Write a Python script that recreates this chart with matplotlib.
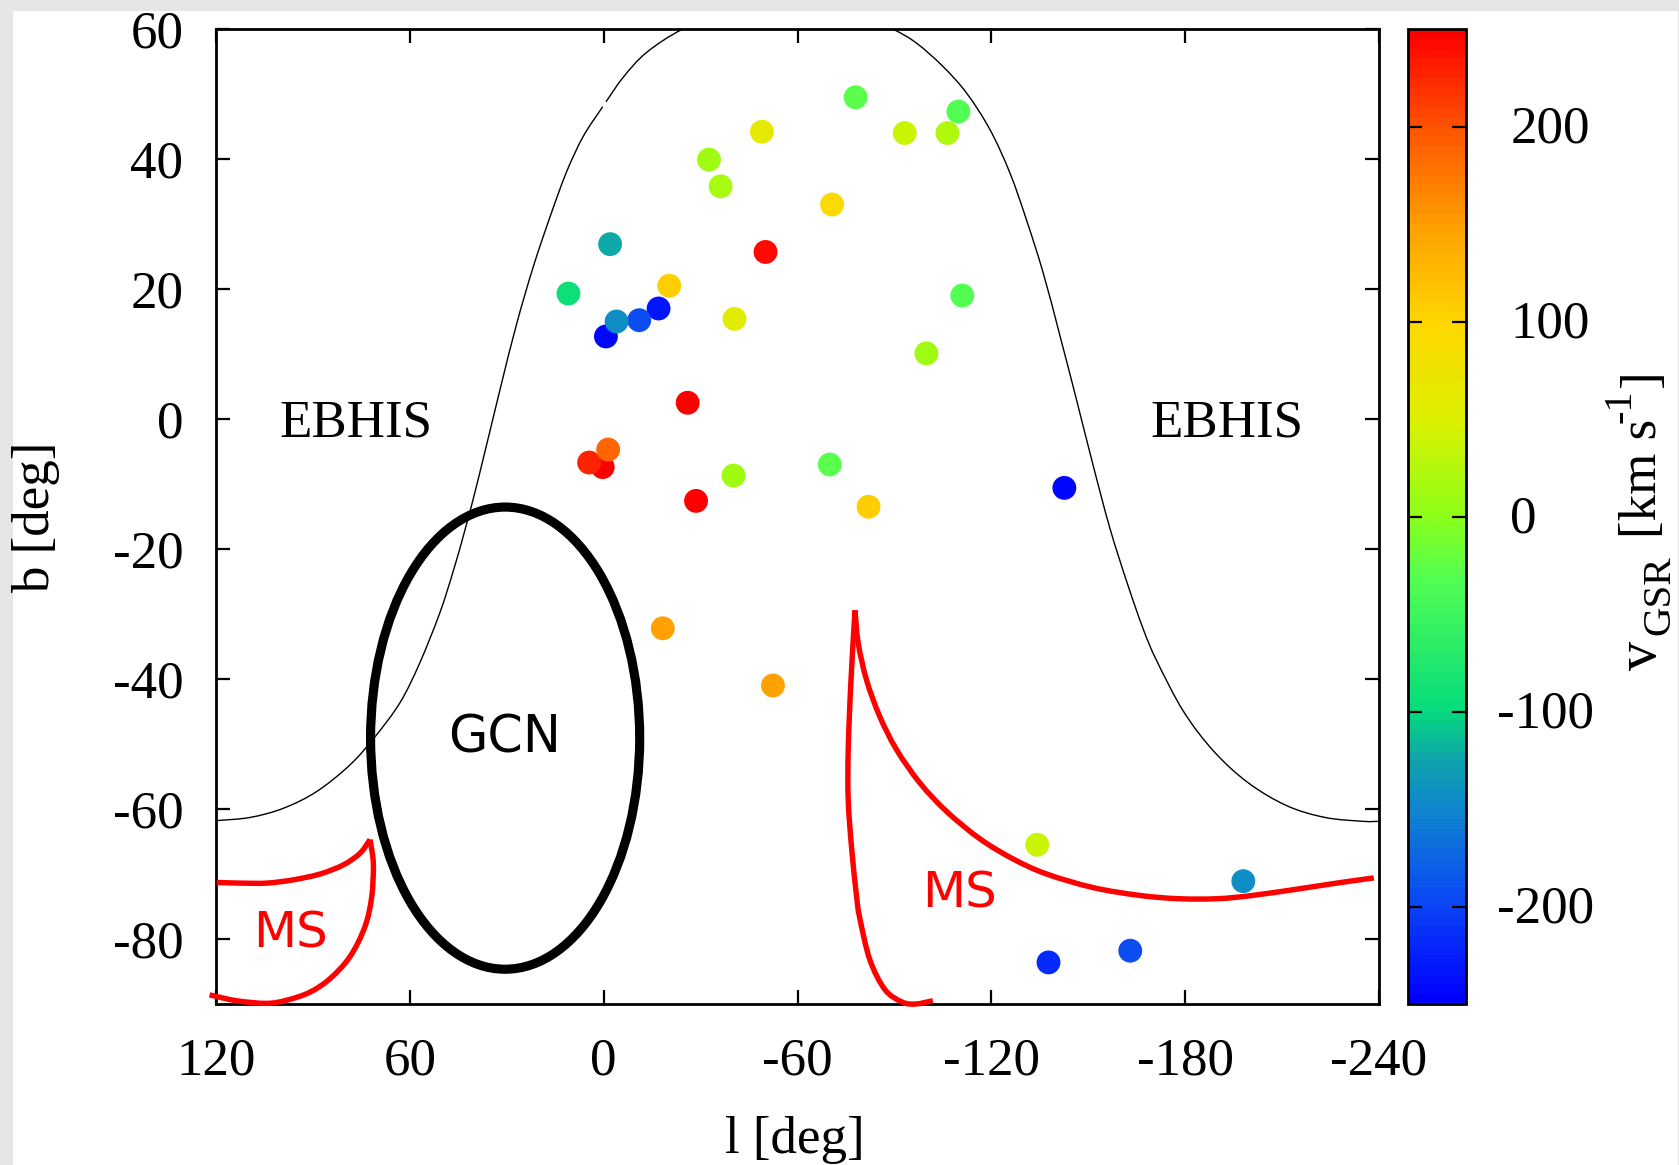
import matplotlib
matplotlib.use("Agg")
import matplotlib.pyplot as plt
import numpy as np
from matplotlib.colors import LinearSegmentedColormap, Normalize
from matplotlib.cm import ScalarMappable
from matplotlib.patches import Ellipse, Rectangle, PathPatch
from matplotlib.path import Path
from matplotlib.transforms import ScaledTranslation

# --- clouds ---
cloud_l = [-78, -109.8, -93.2, -106.4, -49, -32.6, -36.2, -70.7, -2, -50.1, 10.9, -20.3, -111, -40.5,
           -17, -11, -0.7, -4, -99.9, -26, 0.3, 4.5, -1.4, -40.2, -70, -82, -28.6, -142.6,
           -18.3, -52.4, -134.2, -198, -163, -137.7]
cloud_b = [49.5, 47.3, 44, 44, 44.2, 39.9, 35.8, 33, 26.9, 25.7, 19.3, 20.5, 19, 15.4,
           17, 15.2, 12.7, 15, 10.1, 2.5, -7.4, -6.7, -4.7, -8.7, -7, -13.5, -12.6, -10.6,
           -32.2, -41, -65.5, -71.1, -81.8, -83.6]
cloud_v = [-30, -33, 40, 20, 60, 10, 15, 90, -125, 240, -95, 105, -35, 55,
           -235, -195, -245, -145, 10, 245, 245, 225, 185, 10, -30, 105, 250, -245,
           145, 145, 40, -145, -195, -220]

# --- EBHIS boundary ---
ebhis_l1 = [120, 109.5, 99.2, 88.8, 78.5, 70.8, 63, 56.9, 50.7, 46.5, 42.9, 38.8, 32.1, 26.9, 21.8, 16.6, 11.5, 6.3, 0.3]
ebhis_b1 = [-61.8, -61.3, -59.9, -57.3, -53.2, -48.9, -43.6, -37.5, -29.8, -23.3, -17, -9.2, 4.5, 14.7, 23.4, 31.1, 38.0, 43.5, 48.05]
ebhis_l2 = [-0.7, -6.1, -13.3, -24.5, -40, -57, -75, -89.5, -96.9, -105.1, -112.4, -119.6, -125.8, -130.9, -136.1,
            -141.3, -146.4, -151.6, -156.7, -161.9, -167, -171.2, -179.5, -189, -199.6, -211.5, -223.3, -235.2, -240]
ebhis_b2 = [48.8, 52.6, 56.4, 60, 63.2, 64.8, 63.4, 60, 57.8, 54.2, 50.1, 44.5, 37.8, 30.6, 22.4,
            12.7, 2.9, -7.3, -16.8, -25, -32.3, -37.2, -45, -51.2, -56, -59.5, -61.3, -61.9, -61.9]

# --- Magellanic Stream outline: each outline is two legs that meet in a cusp ---
ms_right_leg1_l = [-101.9, -96.6, -92.4, -87.1, -82.4, -79.2, -78.3, -76.8, -75.7, -75.7, -76.5, -77.8]
ms_right_leg1_b = [-89.5, -90, -89.7, -87.8, -83.2, -76.6, -73.5, -66.3, -58.6, -50.9, -40.7, -29.4]
ms_right_leg2_l = [-77.8, -78.8, -81.4, -85.5, -90.7, -97.9, -106.2, -116.5, -126.8, -137.1, -151.6, -166, -178, -190, -200.8, -215, -226.9, -238.4]
ms_right_leg2_b = [-29.4, -34.5, -40.2, -45.8, -50.9, -56, -60.4, -64.6, -67.7, -70, -72.1, -73.3, -73.8, -73.8, -73.3, -72.3, -71.4, -70.6]
ms_left_leg1_l = [119.8, 112.6, 104.3, 96.1, 87.8, 80.6, 75.4, 72.3]
ms_left_leg1_b = [-71.3, -71.4, -71.4, -70.9, -70, -68.6, -66.8, -64.7]
ms_left_leg2_l = [72.3, 71.3, 71.8, 73.9, 78.5, 84.7, 91, 98, 104.3, 113.6, 122]
ms_left_leg2_b = [-64.7, -68.4, -73.5, -78.1, -82.7, -86.1, -88.2, -89.4, -89.9, -89.5, -88.6]

# --- GCN ellipse (centre, full width, full height) ---
gcn_l, gcn_b, gcn_w, gcn_h = 30.5, -49.1, 83.3, 71.1

x_ticks = [120, 60, 0, -60, -120, -180, -240]
y_ticks = [60, 40, 20, 0, -20, -40, -60, -80]
c_ticks = [200, 100, 0, -100, -200]

# --- palette ---
pal_v = [-250, -200, -150, -125, -100, -30, 0, 50, 100, 150, 200, 250]
pal_c = [(0, 0, 255), (10, 70, 245), (15, 135, 205), (15, 165, 170), (5, 220, 125), (85, 255, 80),
         (140, 255, 25), (220, 240, 0), (255, 215, 0), (255, 160, 0), (255, 85, 0), (255, 0, 0)]

SERIF = "Liberation Serif"
SANS = "DejaVu Sans"
FS = 38.2


def smooth_path(xs, ys):
    """Bezier path through the given points (Catmull-Rom tangents)."""
    p = np.column_stack([xs, ys]).astype(float)
    n = len(p)
    verts = [p[0]]
    codes = [Path.MOVETO]
    for i in range(n - 1):
        p1, p2 = p[i], p[i + 1]
        p0 = p[i - 1] if i > 0 else 2 * p1 - p2
        p3 = p[i + 2] if i + 2 < n else 2 * p2 - p1
        verts += [p1 + (p2 - p0) / 6, p2 - (p3 - p1) / 6, p2]
        codes += [Path.CURVE4] * 3
    return Path(verts, codes)


W, H = 1679, 1165
fig = plt.figure(figsize=(W / 100, H / 100), dpi=100, facecolor="#e6e6e6")
fig.patches.append(Rectangle((13 / W, 0), (1678 - 13) / W, 1 - 11 / H, transform=fig.transFigure,
                             facecolor="white", edgecolor="none", zorder=-10))

ax = fig.add_axes([216 / W, 1 - 1004 / H, (1379 - 216) / W, (1004 - 29) / H])
ax.patch.set_alpha(0)
ax.set_xlim(120, -240)
ax.set_ylim(-90, 60)

cmap = LinearSegmentedColormap.from_list(
    "vgsr", [((v + 250) / 500, tuple(x / 255 for x in c)) for v, c in zip(pal_v, pal_c)], N=100)
norm = Normalize(-250, 250)

for xs, ys in [(ebhis_l1, ebhis_b1), (ebhis_l2, ebhis_b2)]:
    ax.add_patch(PathPatch(smooth_path(xs, ys), fill=False, edgecolor="black", lw=1.0, zorder=2))
ax.add_patch(Ellipse((gcn_l, gcn_b), gcn_w, gcn_h, fill=False, edgecolor="black", lw=6.6, zorder=3))
for xs, ys in [(ms_right_leg1_l, ms_right_leg1_b), (ms_right_leg2_l, ms_right_leg2_b),
               (ms_left_leg1_l, ms_left_leg1_b), (ms_left_leg2_l, ms_left_leg2_b)]:
    ax.add_patch(PathPatch(smooth_path(xs, ys), fill=False, edgecolor="#ff0000", lw=3.9,
                           clip_on=False, zorder=4, capstyle="butt"))
ax.scatter(cloud_l, cloud_b, c=cloud_v, cmap=cmap, norm=norm, s=295, linewidths=0, zorder=5)

ax.text(76.8, -0.65, "EBHIS", family=SERIF, fontsize=FS, ha="center", va="center")
ax.text(-193, -0.65, "EBHIS", family=SERIF, fontsize=FS, ha="center", va="center")
ax.text(30.8, -49.2, "GCN", family=SANS, fontsize=36.5, ha="center", va="center")
ax.text(97, -79.1, "MS", family=SANS, fontsize=36, color="#ff0000", ha="center", va="center")
ax.text(-110, -73.0, "MS", family=SANS, fontsize=36, color="#ff0000", ha="center", va="center")

ax.set_xticks(x_ticks)
ax.set_xticklabels([str(t) for t in x_ticks], family=SERIF, fontsize=FS)
ax.set_yticks(y_ticks)
ax.set_yticklabels([str(t) for t in y_ticks], family=SERIF, fontsize=FS)
ax.tick_params(axis="x", direction="in", top=True, bottom=True, length=10, width=1.6, pad=24)
ax.tick_params(axis="y", direction="in", left=True, right=True, length=10, width=1.6, pad=23.5)
for s in ax.spines.values():
    s.set_linewidth(2.0)

cax = fig.add_axes([1408 / W, 1 - 1004 / H, (1466 - 1408) / W, (1004 - 29) / H])
cb = fig.colorbar(ScalarMappable(norm=norm, cmap=cmap), cax=cax)
cb.set_ticks(c_ticks)
cb.set_ticklabels([str(t) for t in c_ticks], family=SERIF, fontsize=FS)
cax.tick_params(axis="y", direction="in", left=True, right=True, length=10, width=1.6, pad=32)
cb.outline.set_linewidth(2.0)
for lab, t in zip(cax.get_yticklabels(), c_ticks):
    dx = -9.5 / 72 if t < 0 else 0
    lab.set_transform(lab.get_transform() + ScaledTranslation(dx, 1.5 / 72, fig.dpi_scale_trans))

fig.text(795 / W, 1 - 1140 / H, "l [deg]", family=SERIF, fontsize=FS, ha="center", va="center")
fig.text(36 / W, 1 - 517 / H, "b [deg]", family=SERIF, fontsize=FS, rotation=90, ha="center", va="center")

# colour-bar title, set in pieces to match the large subscript of the original
for txt, X, Y, fs in [("v", 1656, 670, 42), ("GSR", 1669, 635, 29.5), ("[km s", 1656, 538, FS),
                      ("-1", 1630, 423, 29), ("]", 1656, 388, FS)]:
    fig.text(X / W, 1 - Y / H, txt, family=SERIF, fontsize=fs, rotation=90, rotation_mode="anchor",
             ha="left", va="baseline")

fig.savefig("out.png", dpi=100, facecolor=fig.get_facecolor())
